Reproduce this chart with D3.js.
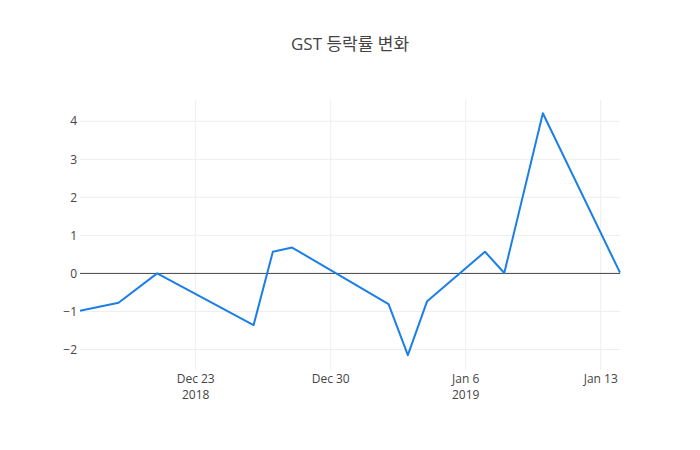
<!DOCTYPE html>
<html>
<head>
<meta charset="utf-8">
<script src="https://cdn.jsdelivr.net/npm/d3@7"></script>
<style>
  body { margin: 0; background: #fff; }
  svg text { font-family: "Open Sans", "Noto Sans CJK KR", sans-serif; }
</style>
</head>
<body>
<div id="chart"></div>
<script>
var dates = ['2018-12-17', '2018-12-19', '2018-12-21', '2018-12-26', '2018-12-27', '2018-12-28',
  '2019-01-02', '2019-01-03', '2019-01-04', '2019-01-07', '2019-01-08', '2019-01-10', '2019-01-14'];
var rates = [-0.98, -0.77, 0.0, -1.36, 0.57, 0.68, -0.81, -2.15, -0.73, 0.57, 0.01, 4.21, 0.02];
var yTicks = [-2, -1, 0, 1, 2, 3, 4];
var xTicks = ['2018-12-23', '2018-12-30', '2019-01-06', '2019-01-13'];
var xTickLabels = [['Dec 23', '2018'], ['Dec 30'], ['Jan 6', '2019'], ['Jan 13']];
var title = 'GST 등락률 변화';

var width = 700, height = 450;
var margin = { top: 100, right: 80, bottom: 80, left: 80 };
var innerW = width - margin.left - margin.right;
var innerH = height - margin.top - margin.bottom;
var parse = d3.utcParse('%Y-%m-%d');

var data = dates.map(function (d, i) { return { date: parse(d), value: rates[i] }; });

var svg = d3.select('#chart').append('svg')
  .attr('width', width)
  .attr('height', height);

svg.append('text')
  .attr('x', width / 2)
  .attr('y', 50)
  .attr('text-anchor', 'middle')
  .attr('fill', '#444')
  .style('font-size', '17px')
  .text(title);

var g = svg.append('g')
  .attr('transform', 'translate(' + margin.left + ',' + margin.top + ')');

var xScale = d3.scaleUtc()
  .domain(d3.extent(data, function (d) { return d.date; }))
  .range([0, innerW]);
var yScale = d3.scaleLinear()
  .domain([-2.54, 4.56])
  .range([innerH, 0]);

// grid
g.append('g').selectAll('line')
  .data(xTicks)
  .enter().append('line')
  .attr('x1', function (d) { return xScale(parse(d)); })
  .attr('x2', function (d) { return xScale(parse(d)); })
  .attr('y1', 0)
  .attr('y2', innerH)
  .attr('stroke', '#eee')
  .attr('stroke-width', 1);
g.append('g').selectAll('line')
  .data(yTicks.filter(function (d) { return d !== 0; }))
  .enter().append('line')
  .attr('x1', 0)
  .attr('x2', innerW)
  .attr('y1', function (d) { return yScale(d); })
  .attr('y2', function (d) { return yScale(d); })
  .attr('stroke', '#eee')
  .attr('stroke-width', 1);

// zero line
g.append('line')
  .attr('x1', 0)
  .attr('x2', innerW)
  .attr('y1', yScale(0))
  .attr('y2', yScale(0))
  .attr('stroke', '#444')
  .attr('stroke-width', 1);

// y labels
g.append('g').selectAll('text')
  .data(yTicks)
  .enter().append('text')
  .attr('x', -3)
  .attr('y', function (d) { return yScale(d); })
  .attr('dy', '0.35em')
  .attr('text-anchor', 'end')
  .attr('fill', '#444')
  .style('font-size', '12px')
  .text(function (d) { return d < 0 ? '\u2212' + Math.abs(d) : d; });

// x labels
var xl = g.append('g').selectAll('text')
  .data(xTicks)
  .enter().append('text')
  .attr('x', function (d) { return xScale(parse(d)); })
  .attr('y', innerH + 13)
  .attr('text-anchor', 'middle')
  .attr('fill', '#444')
  .style('font-size', '12px');
xl.each(function (d, i) {
  var t = d3.select(this);
  xTickLabels[i].forEach(function (s, j) {
    t.append('tspan')
      .attr('x', xScale(parse(d)))
      .attr('dy', j === 0 ? '0' : '16')
      .text(s);
  });
});

var line = d3.line()
  .x(function (d) { return xScale(d.date); })
  .y(function (d) { return yScale(d.value); });

g.append('path')
  .datum(data)
  .attr('d', line)
  .attr('fill', 'none')
  .attr('stroke', '#1a7fe6')
  .attr('stroke-width', 2)
  .attr('stroke-linejoin', 'round');
</script>
</body>
</html>
